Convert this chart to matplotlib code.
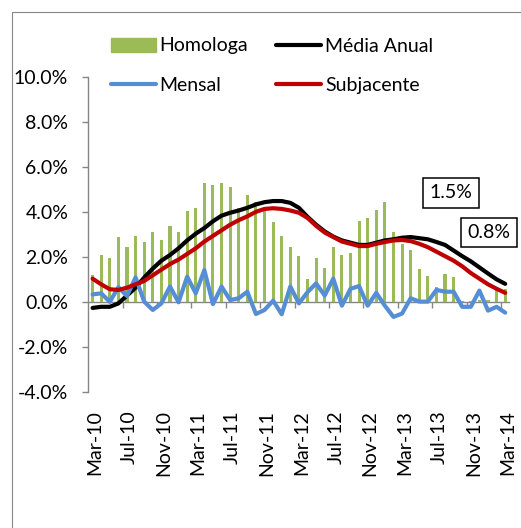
import numpy as np
import matplotlib
matplotlib.use("Agg")
import matplotlib.pyplot as plt
from matplotlib.patches import Patch, Rectangle
from matplotlib.lines import Line2D
from matplotlib.ticker import FuncFormatter
import matplotlib.transforms as mtransforms

plt.rcParams['font.family'] = ['Lato', 'DejaVu Sans']

# ---- data (monthly, Mar-10 .. Mar-14) ----
homologa = [1.2, 2.1, 1.95, 2.9, 2.45, 2.96, 2.68, 3.12, 2.75, 3.4, 3.12, 4.04, 4.19,
            5.29, 5.21, 5.29, 5.13, 4.2, 4.77, 4.48, 4.1, 3.55, 2.96, 2.46, 2.04,
            1.04, 1.95, 1.52, 2.46, 2.1, 2.18, 3.6, 3.76, 4.12, 4.48, 3.13, 2.6,
            2.33, 1.47, 1.17, 0.67, 1.24, 1.11, 0.05, 0.05, 0.1, 0.1, 0.63, 0.58]
media_anual = [-0.25, -0.2, -0.2, -0.05, 0.3, 0.65, 1.1, 1.5, 1.85, 2.1, 2.4, 2.75, 3.05,
               3.3, 3.6, 3.85, 3.98, 4.08, 4.2, 4.35, 4.45, 4.5, 4.5, 4.42, 4.2,
               3.8, 3.45, 3.15, 2.92, 2.75, 2.65, 2.55, 2.55, 2.65, 2.75, 2.8, 2.87,
               2.9, 2.85, 2.8, 2.68, 2.55, 2.3, 2.05, 1.82, 1.55, 1.28, 1.02, 0.82]
mensal = [0.35, 0.4, 0.02, 0.67, 0.28, 1.11, 0.03, -0.34, -0.05, 0.7, 0.0, 1.14, 0.4,
          1.43, -0.08, 0.7, 0.1, 0.18, 0.47, -0.52, -0.34, 0.07, -0.53, 0.7, -0.05,
          0.45, 0.84, 0.3, 1.05, -0.15, 0.6, 0.72, -0.15, 0.42, -0.15, -0.65, -0.5,
          0.18, 0.03, 0.03, 0.55, 0.47, 0.47, -0.2, -0.2, 0.52, -0.37, -0.2, -0.46]
subjacente = [1.05, 0.8, 0.58, 0.55, 0.65, 0.8, 0.95, 1.2, 1.45, 1.7, 1.9, 2.15, 2.4,
              2.7, 2.95, 3.2, 3.45, 3.65, 3.82, 4.02, 4.15, 4.18, 4.15, 4.08, 3.98,
              3.75, 3.4, 3.1, 2.9, 2.7, 2.6, 2.5, 2.5, 2.6, 2.68, 2.75, 2.77,
              2.72, 2.6, 2.45, 2.25, 2.05, 1.85, 1.6, 1.3, 1.05, 0.8, 0.6, 0.42]
tick_labels = ['Mar-10', 'Jul-10', 'Nov-10', 'Mar-11', 'Jul-11', 'Nov-11', 'Mar-12',
               'Jul-12', 'Nov-12', 'Mar-13', 'Jul-13', 'Nov-13', 'Mar-14']
series_names = ['Homologa', 'Média Anual', 'Mensal', 'Subjacente']
callouts = ['1.5%', '0.8%']

# ---- styling ----
GREEN = '#9BBB59'
BLUE = '#558ED5'
RED = '#C00000'
BLACK = '#000000'
GRAY = '#868686'
FS = 14
LW = 3.0

W, H = 521, 528
fig = plt.figure(figsize=(W / 100, H / 100), dpi=100)
fig.patches.append(Rectangle((12 / W, -0.05), 1.1, 1 - 12 / H + 0.05,
                             transform=fig.transFigure, fill=False,
                             ec=GRAY, lw=0.8, zorder=0))

x0, x1, y0, y1 = 88.3, 509.5, 77.3, 392.3
ax = fig.add_axes([x0 / W, 1 - y1 / H, (x1 - x0) / W, (y1 - y0) / H])
ax.patch.set_alpha(0)

x = np.arange(len(homologa))
ax.bar(x, homologa, width=0.36, color=GREEN, zorder=2)
kw = dict(lw=LW, solid_joinstyle='round', solid_capstyle='round')
ax.plot(x, media_anual, color=BLACK, zorder=3, **kw)
ax.plot(x, mensal, color=BLUE, zorder=4, **kw)
ax.plot(x, subjacente, color=RED, zorder=5, **kw)

ax.set_xlim(-0.5, len(x) - 0.5)
ax.set_ylim(-4, 10)
ax.set_yticks(np.arange(-4, 10.1, 2))
ax.yaxis.set_major_formatter(FuncFormatter(lambda v, p: f'{v:.1f}%'))
for s in ['top', 'right', 'bottom']:
    ax.spines[s].set_visible(False)
ax.spines['left'].set_color(GRAY)
ax.spines['left'].set_linewidth(1.0)
ax.tick_params(axis='y', direction='out', length=4.5, width=1, color=GRAY,
               pad=10, labelsize=FS, labelcolor='black')

ax.set_xticks(x[::4])
ax.set_xticklabels(tick_labels, rotation=90, va='top', ha='center')
ax.tick_params(axis='x', length=0, pad=13, labelsize=FS)
offset = mtransforms.ScaledTranslation(2.5 / 100, 0, fig.dpi_scale_trans)
for lab in ax.get_xticklabels():
    lab.set_transform(lab.get_transform() + offset)

# zero line axis with tick marks between category groups
sec = ax.secondary_xaxis(4 / 14)
sec.set_xticks(np.arange(3.5, len(x) - 1, 4))
sec.tick_params(length=4, width=1, direction='out', color=GRAY, labelbottom=False)
sec.spines['bottom'].set_color(GRAY)
sec.spines['bottom'].set_linewidth(1.0)

handles = [Patch(color=GREEN),
           Line2D([], [], color=BLUE, lw=LW, solid_capstyle='round'),
           Line2D([], [], color=BLACK, lw=LW, solid_capstyle='round'),
           Line2D([], [], color=RED, lw=LW, solid_capstyle='round')]
labels = [series_names[0], series_names[2], series_names[1], series_names[3]]
fig.legend(handles, labels, ncol=2, loc='upper left',
           bbox_to_anchor=(111 / W, 1 - 37.5 / H), bbox_transform=fig.transFigure,
           frameon=False, fontsize=FS, handlelength=2.3, handleheight=0.75,
           handletextpad=0.2, columnspacing=1.45, labelspacing=1.15, borderpad=0,
           borderaxespad=0)

bbox = dict(boxstyle='square,pad=0.33', fc='white', ec='black', lw=1.1)
ax.text(41.7, 4.87, callouts[0], ha='center', va='center', fontsize=FS, bbox=bbox, zorder=6)
ax.text(46.1, 3.1, callouts[1], ha='center', va='center', fontsize=FS, bbox=bbox, zorder=6)

fig.savefig('out.png', dpi=100)
